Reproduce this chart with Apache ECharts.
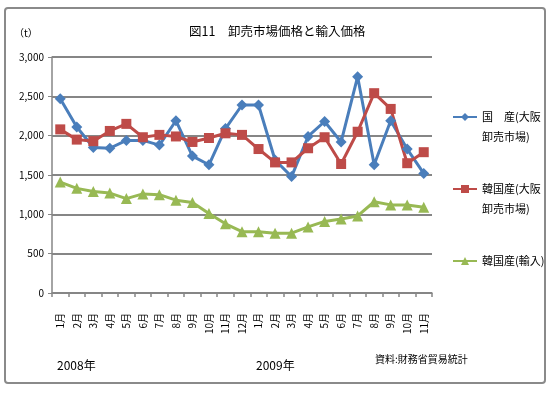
<!DOCTYPE html>
<html><head><meta charset="utf-8">
<script src="https://cdn.jsdelivr.net/npm/echarts@6/dist/echarts.min.js"></script>
<style>html,body{margin:0;padding:0;background:#fff}#c{width:554px;height:393px}</style>
</head><body><div id="c"></div>
<script>
const categories = ['1月','2月','3月','4月','5月','6月','7月','8月','9月','10月','11月','12月','1月','2月','3月','4月','5月','6月','7月','8月','9月','10月','11月'];
const domestic = [2470,2110,1850,1840,1940,1940,1880,2190,1740,1630,2090,2390,2390,1690,1480,1990,2180,1920,2750,1630,2190,1830,1520];
const koreaOsaka = [2080,1950,1930,2060,2150,1980,2010,1990,1920,1970,2030,2010,1830,1660,1660,1840,1980,1640,2050,2540,2340,1650,1790];
const koreaImport = [1410,1330,1290,1270,1200,1260,1250,1180,1150,1010,880,780,780,760,760,840,910,940,980,1160,1120,1120,1090];
const seriesNames = ['国　産(大阪\n卸売市場)','韓国産(大阪\n卸売市場)','韓国産(輸入)'];
const yTicks = [0,500,1000,1500,2000,2500,3000];

const FONT = '"Noto Sans CJK JP","Noto Sans",sans-serif';
const chart = echarts.init(document.getElementById('c'), null, {renderer:'canvas'});
const mk = (name, data, color, symbol, size) => ({
  name, type:'line', data, symbol, symbolSize:size, showSymbol:true,
  lineStyle:{color, width:3}, itemStyle:{color}
});
chart.setOption({
  animation:false,
  textStyle:{fontFamily:FONT},
  graphic:[
    {type:'rect', shape:{x:5,y:8,width:540,height:375,r:3}, style:{fill:'none',stroke:'#8a8a8a',lineWidth:2}},
    {type:'text', left:189, top:25, style:{text:'図11　卸売市場価格と輸入価格', font:'12.5px '+FONT, fill:'#000'}},
    {type:'text', left:14, top:28, style:{text:'（t）', font:'10px '+FONT, fill:'#000'}},
    {type:'text', left:57, top:359, style:{text:'2008年', font:'12px '+FONT, fill:'#000'}},
    {type:'text', left:256, top:359, style:{text:'2009年', font:'12px '+FONT, fill:'#000'}},
    {type:'text', left:375, top:354, style:{text:'資料:財務省貿易統計', font:'10px '+FONT, fill:'#000'}}
  ],
  grid:{left:52, right:122, top:57, bottom:100, containLabel:false},
  legend:{
    orient:'vertical', left:447, top:82, itemGap:12, itemWidth:24, itemHeight:10,
    data:seriesNames,
    formatter: n => '\n' + n + (n.indexOf('\n') >= 0 ? '' : '\n'),
    textStyle:{fontSize:11, color:'#000', lineHeight:20, fontFamily:FONT}
  },
  xAxis:{
    type:'category', data:categories, boundaryGap:true,
    axisLine:{lineStyle:{color:'#868686', width:1.5}},
    axisTick:{show:true, length:4, lineStyle:{color:'#868686', width:1.5}},
    axisLabel:{rotate:90, interval:0, fontSize:10, color:'#000', margin:20, fontFamily:FONT}
  },
  yAxis:{
    type:'value', min:yTicks[0], max:yTicks[yTicks.length-1], interval:500,
    axisLine:{show:true, lineStyle:{color:'#868686', width:1.5}},
    axisTick:{show:true, length:4, lineStyle:{color:'#868686'}},
    splitLine:{lineStyle:{color:'#868686', width:2}},
    axisLabel:{fontSize:10, color:'#000', margin:8, fontFamily:FONT, formatter:v=>v.toLocaleString('en-US')}
  },
  series:[
    mk(seriesNames[0], domestic, '#4A7EBB', 'diamond', 11),
    mk(seriesNames[1], koreaOsaka, '#BE4B48', 'rect', 10),
    mk(seriesNames[2], koreaImport, '#98B954', 'triangle', 11)
  ]
});
</script></body></html>
